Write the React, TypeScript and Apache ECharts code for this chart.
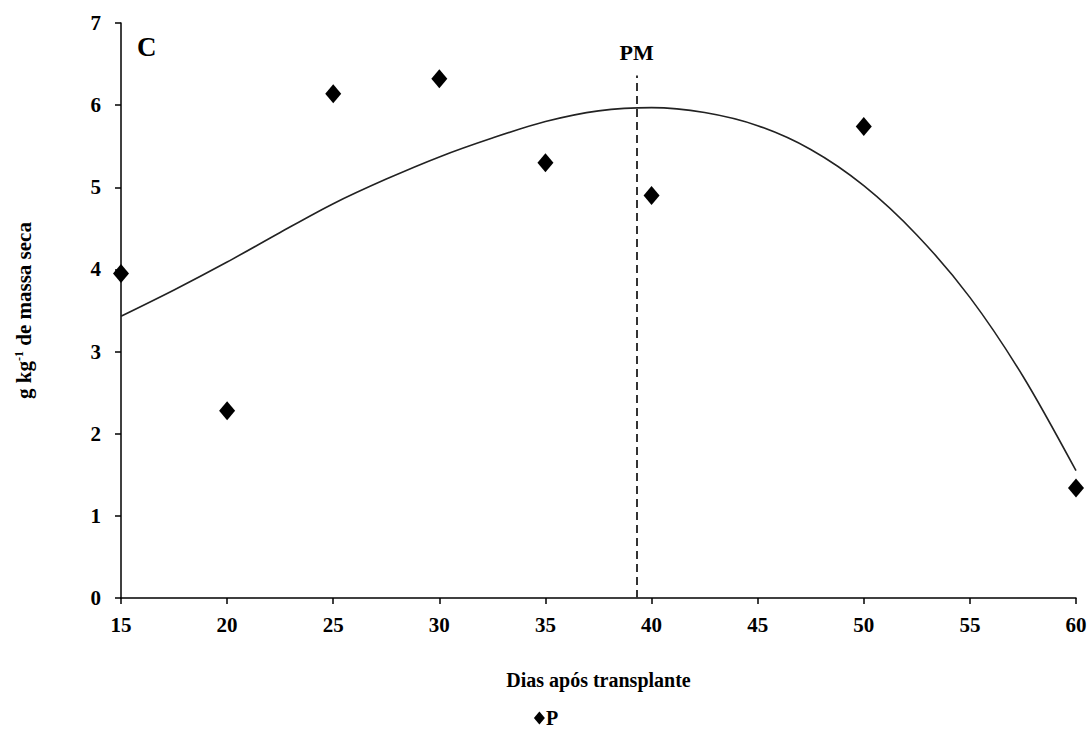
import React, { useEffect, useRef } from "react";
import * as echarts from "echarts";

const days = [15, 20, 25, 30, 35, 40, 50, 60];
const pValues = [3.95, 2.28, 6.14, 6.32, 5.3, 4.9, 5.74, 1.34];

const fitDays = [15, 17.5, 20, 22.5, 25, 27.5, 30, 32.5, 35, 37.5, 40, 42.5, 45, 47.5, 50, 52.5, 55, 57.5, 60];
const fitValues = [3.43, 3.75, 4.09, 4.45, 4.8, 5.1, 5.37, 5.6, 5.8, 5.93, 5.97, 5.91, 5.75, 5.46, 5.02, 4.42, 3.66, 2.7, 1.55];

const pmDay = 39.3;
const pmTop = 6.36;

const xTicks = [15, 20, 25, 30, 35, 40, 45, 50, 55, 60];
const yTicks = [0, 1, 2, 3, 4, 5, 6, 7];

const FONT = "'Liberation Serif', 'Times New Roman', serif";

export default function App() {
  const ref = useRef<HTMLDivElement>(null);
  useEffect(() => {
    if (!ref.current) return;
    const chart = echarts.init(ref.current, null, { renderer: "svg" });
    const axisText = { color: "#000", fontFamily: FONT, fontWeight: "bold" as const, fontSize: 21 };
    chart.setOption({
      animation: false,
      backgroundColor: "#fff",
      title: {
        text: "C",
        left: 132,
        top: 28,
        textStyle: { fontFamily: FONT, fontWeight: "bold", fontSize: 27, color: "#000" },
      },
      grid: { left: 121, right: 16, top: 23, bottom: 135, containLabel: false },
      legend: {
        data: [{ name: "P", icon: "diamond" }],
        top: 706,
        left: "center",
        itemWidth: 11,
        itemHeight: 13,
        itemGap: 4,
        padding: [2, 5, 2, 5],
        textStyle: { fontFamily: FONT, fontWeight: "bold", fontSize: 20, color: "#000", padding: [0, 0, 0, -4] },
      },
      xAxis: {
        type: "value",
        min: xTicks[0],
        max: xTicks[xTicks.length - 1],
        interval: 5,
        name: "Dias após transplante",
        nameLocation: "middle",
        nameGap: 72,
        nameTextStyle: { ...axisText, fontSize: 20 },
        axisLine: { show: true, onZero: false, lineStyle: { color: "#000", width: 1.5 } },
        axisTick: { show: true, inside: false, length: 6, lineStyle: { color: "#000", width: 1.5 } },
        axisLabel: { ...axisText, margin: 16 },
        splitLine: { show: false },
      },
      yAxis: {
        type: "value",
        min: yTicks[0],
        max: yTicks[yTicks.length - 1],
        interval: 1,
        name: "g kg{sup|-1} de massa seca",
        nameLocation: "middle",
        nameGap: 86,
        nameTextStyle: {
          ...axisText,
          fontSize: 21,
          rich: {
            sup: { fontFamily: FONT, fontWeight: "bold", fontSize: 12, color: "#000", verticalAlign: "top", lineHeight: 22 },
          },
        },
        axisLine: { show: true, onZero: false, lineStyle: { color: "#000", width: 1.5 } },
        axisTick: { show: true, inside: false, length: 6, lineStyle: { color: "#000", width: 1.5 } },
        axisLabel: { ...axisText, margin: 20 },
        splitLine: { show: false },
      },
      series: [
        {
          name: "fit",
          type: "line",
          data: fitDays.map((d, i) => [d, fitValues[i]]),
          smooth: 0.3,
          showSymbol: false,
          symbol: "none",
          lineStyle: { color: "#222", width: 1.6 },
          z: 2,
          markLine: {
            silent: true,
            symbol: ["none", "none"],
            lineStyle: { color: "#333", type: [8, 5], width: 2 },
            label: {
              show: true,
              position: "end",
              formatter: "PM",
              distance: 12,
              fontFamily: FONT,
              fontWeight: "bold",
              fontSize: 22,
              color: "#000",
            },
            data: [[{ coord: [pmDay, 0] }, { coord: [pmDay, pmTop] }]],
          },
        },
        {
          name: "P",
          type: "scatter",
          data: days.map((d, i) => [d, pValues[i]]),
          symbol: "diamond",
          symbolSize: [16, 19],
          itemStyle: { color: "#000", opacity: 1 },
          z: 3,
        },
      ],
    });
    return () => chart.dispose();
  }, []);
  return <div ref={ref} style={{ width: 1092, height: 733, position: "absolute", left: 0, top: 0 }} />;
}
